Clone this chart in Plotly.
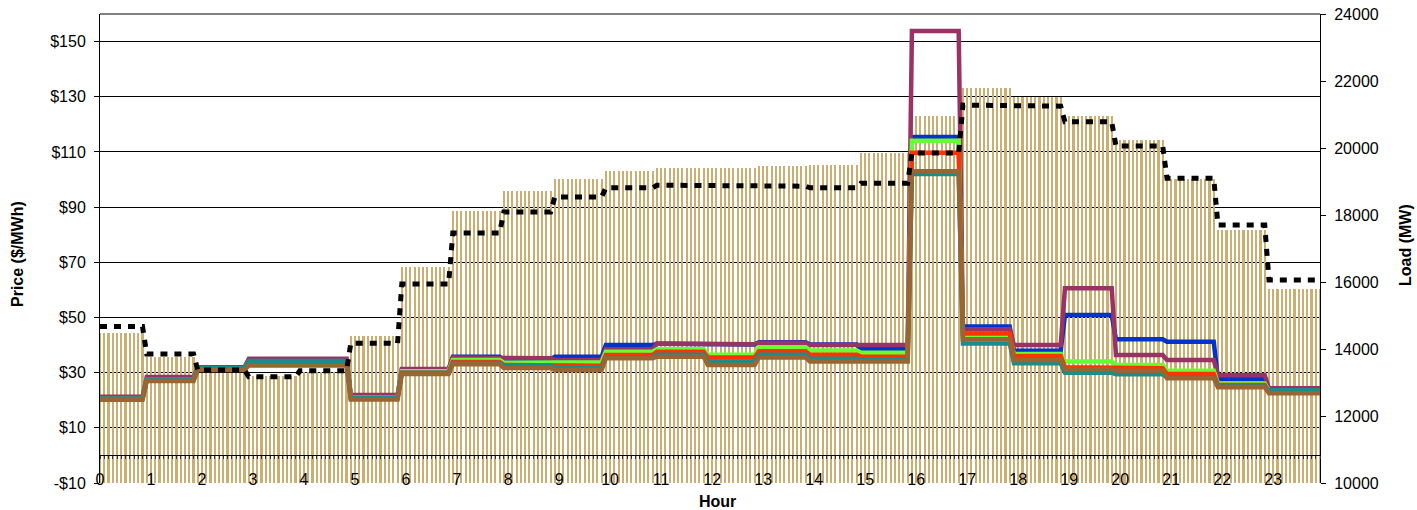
import plotly.graph_objects as go

# ---------------- data (hourly values) ----------------
hours = list(range(24))
hour_labels = [str(h) for h in hours]

# load (MW) - right axis
load_actual = [14480, 13770, 13290, 13200, 13300, 14390, 16450, 18120, 18720, 19070,
               19300, 19400, 19400, 19460, 19490, 19850, 20960, 21790, 21520, 20960,
               20240, 19060, 17550, 15800]
load_forecast = [14670, 13850, 13370, 13170, 13350, 14170, 15940, 17460, 18090, 18540,
                 18810, 18890, 18880, 18860, 18810, 18950, 19850, 21280, 21250, 20780,
                 20060, 19100, 17700, 16060]

# prices ($/MWh) - left axis
price_blue = [20.8, 27.8, 31.6, 34.5, 34.5, 21.5, 31.0, 35.8, 34.8, 35.8, 40.0, 40.5,
              40.2, 41.0, 40.2, 38.5, 115.4, 46.7, 37.9, 50.9, 42.1, 41.2, 27.6, 24.0]
price_purple = [21.3, 28.4, 32.0, 35.0, 35.0, 21.9, 31.3, 35.5, 35.2, 34.6, 38.5, 40.6,
                40.3, 40.8, 40.0, 40.0, 153.8, 45.7, 40.0, 60.6, 36.4, 34.6, 29.1, 24.3]
price_green = [20.6, 27.6, 31.4, 34.0, 34.0, 21.0, 30.5, 34.6, 33.6, 33.8, 37.6, 38.5,
               36.5, 39.2, 38.0, 37.2, 114.1, 43.0, 36.8, 34.0, 32.8, 30.7, 26.1, 23.5]
price_red = [20.5, 27.4, 31.2, 33.5, 33.5, 20.8, 30.0, 33.9, 32.8, 32.5, 36.4, 37.6,
             35.5, 37.8, 36.5, 35.8, 109.7, 44.2, 36.0, 32.0, 31.6, 29.5, 25.5, 23.0]
price_teal = [20.6, 27.5, 31.6, 34.2, 34.2, 20.8, 30.0, 33.5, 32.5, 31.8, 35.5, 36.5,
              34.0, 36.5, 35.0, 34.5, 102.0, 40.6, 33.4, 30.0, 29.4, 28.2, 25.0, 23.6]
price_brown = [20.2, 27.0, 31.0, 32.6, 32.6, 20.3, 29.5, 33.0, 31.7, 31.0, 35.2, 35.8,
               32.8, 35.5, 34.0, 34.0, 103.0, 42.1, 34.6, 31.2, 30.7, 28.0, 24.7, 22.5]

price_ticks = [-10, 10, 30, 50, 70, 90, 110, 130, 150]
price_tick_text = ["-$10", "$10", "$30", "$50", "$70", "$90", "$110", "$130", "$150"]

# ---------------- 5-minute sampling of the hourly series ----------------
STEPS = 12
N = 24 * STEPS
xk = [k / STEPS for k in range(N)]
hour_of = [min((k + 1) // STEPS, 23) for k in range(N)]


def expand(vals):
    return [vals[h] for h in hour_of]


FONT = "Liberation Sans, Arial, sans-serif"
fig = go.Figure()

# load bars (main y axis, shown on the right)
fig.add_trace(go.Bar(x=xk, y=expand(load_actual), width=0.5 / STEPS,
                     marker=dict(color="#CBAE72", line=dict(width=0)),
                     yaxis="y", xaxis="x", showlegend=False, hoverinfo="skip"))

series = [
    (price_blue, "#0033CC"),
    (price_purple, "#993366"),
    (price_green, "#66FF33"),
    (price_red, "#FF3300"),
    (price_teal, "#1A8C8C"),
    (price_brown, "#996633"),
]
for vals, col in series:
    fig.add_trace(go.Scatter(x=xk, y=expand(vals), mode="lines",
                             line=dict(color=col, width=4.5),
                             xaxis="x", yaxis="y2", showlegend=False))

# dashed load line on its own overlaying load axis (drawn on top)
fig.add_trace(go.Scatter(x=xk, y=expand(load_forecast), mode="lines",
                         line=dict(color="black", width=5, dash="7px,7px"),
                         xaxis="x", yaxis="y3", showlegend=False))

# dummy trace for the tick axis that crosses at $0
fig.add_trace(go.Scatter(x=[None], y=[None], xaxis="x2", yaxis="y2",
                         showlegend=False, hoverinfo="skip"))

xr = [0, (N - 1) / STEPS]
fig.update_layout(
    width=1417, height=510,
    margin=dict(l=100, r=97, t=14, b=27, autoexpand=False),
    paper_bgcolor="white", plot_bgcolor="white",
    font=dict(family=FONT, size=16, color="black"),
    bargap=0,
    xaxis=dict(range=xr, tickvals=hours, ticktext=hour_labels, showgrid=False,
               zeroline=False, showline=False, ticks="", automargin=False,
               ticklabelstandoff=-15, tickfont=dict(size=16)),
    xaxis2=dict(range=xr, overlaying="x", anchor="free", position=10 / 170,
                showline=True, linecolor="black", linewidth=1,
                ticks="outside", ticklen=3, tickwidth=1, tickcolor="#333333",
                tickvals=xk, showticklabels=False, showgrid=False, zeroline=False),
    yaxis=dict(range=[10000, 24000], side="right", dtick=2000, tick0=10000,
               tickformat="d", automargin=False, ticklabelstandoff=5,
               showgrid=False, zeroline=False, showline=True, linecolor="black",
               linewidth=1, ticks="outside", ticklen=5, tickcolor="black",
               tickfont=dict(size=16)),
    yaxis2=dict(range=[-10, 160], overlaying="y", side="left", automargin=False,
                tickvals=price_ticks, ticktext=price_tick_text, ticklabelstandoff=5,
                showgrid=True, gridcolor="black", gridwidth=1,
                zeroline=False, showline=True, linecolor="black", linewidth=1,
                ticks="outside", ticklen=5, tickcolor="black",
                tickfont=dict(size=16)),
    yaxis3=dict(range=[10000, 24000], overlaying="y", side="right", visible=False),
    shapes=[dict(type="line", xref="paper", yref="paper", x0=0, x1=1, y0=1, y1=1,
                 line=dict(color="black", width=1), layer="above")],
    annotations=[
        dict(text="<b>Hour</b>", xref="paper", yref="paper", x=(717 - 100) / 1220,
             y=(483 - 501) / 469, xanchor="center", yanchor="middle",
             showarrow=False, font=dict(size=16)),
        dict(text="<b>Price ($/MWh)</b>", xref="paper", yref="paper",
             x=(17 - 100) / 1220, y=(483 - 254) / 469, textangle=-90,
             xanchor="center", yanchor="middle", showarrow=False,
             font=dict(size=16)),
        dict(text="<b>Load (MW)</b>", xref="paper", yref="paper",
             x=(1405 - 100) / 1220, y=(483 - 245) / 469, textangle=-90,
             xanchor="center", yanchor="middle", showarrow=False,
             font=dict(size=16)),
    ],
)

fig.write_html("out.html",
               config={"displayModeBar": False},
               post_script="document.body.style.margin='0';"
                           "document.body.style.overflow='hidden';")
